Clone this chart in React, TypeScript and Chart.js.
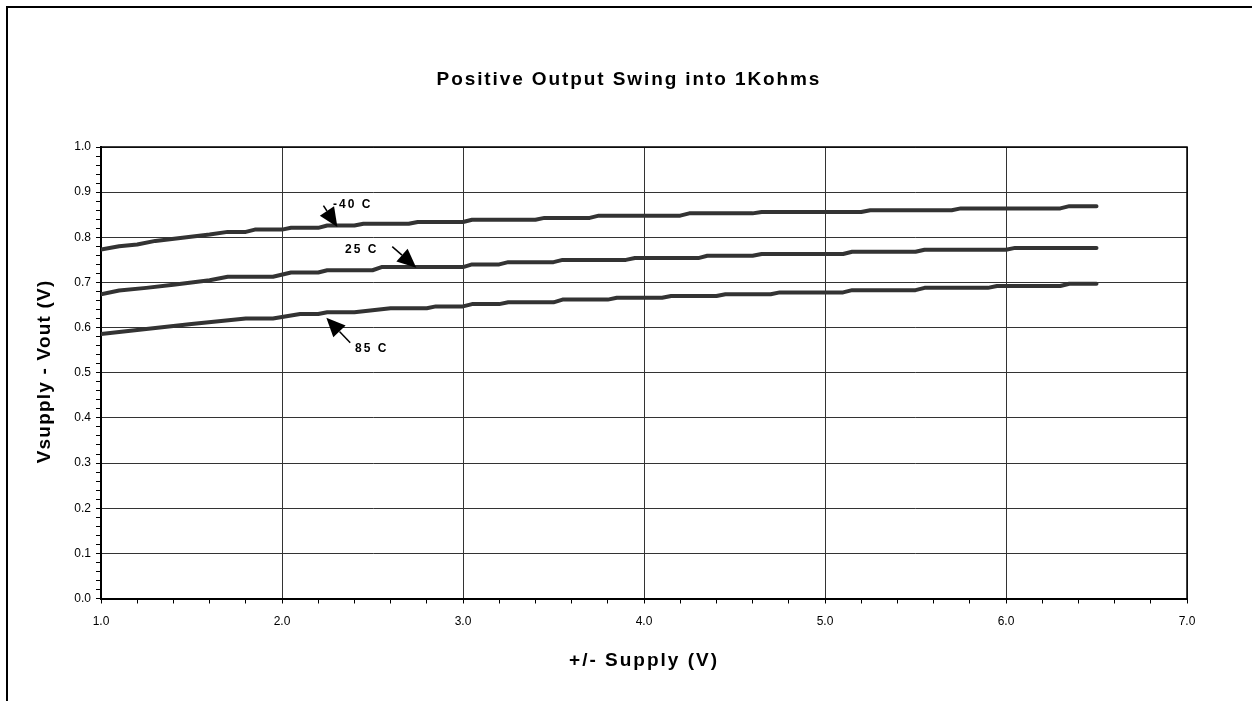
import React, { useEffect, useRef } from "react";
import { Chart, registerables } from "chart.js";

Chart.register(...registerables);

const FONT = "'Liberation Sans', Arial, Helvetica, sans-serif";

const TITLE = "Positive Output Swing into 1Kohms";
const X_TITLE = "+/- Supply (V)";
const Y_TITLE = "Vsupply - Vout (V)";

const X_MIN = 1;
const X_MAX = 7;
const X_STEP = 0.2;
const Y_MIN = 0;
const Y_MAX = 1;
const Y_STEP = 0.02;

// -40 C series (supply V, swing V)
const m40Supply = [1.0, 1.1, 1.2, 1.3, 1.45, 1.6, 1.7, 1.8, 1.85, 2.0, 2.05, 2.2, 2.25, 2.4, 2.45, 2.7, 2.75, 3.0, 3.05, 3.4, 3.45, 3.7, 3.75, 4.2, 4.25, 4.6, 4.65, 5.2, 5.25, 5.7, 5.75, 6.3, 6.35, 6.5];
const m40Swing = [0.773, 0.780, 0.784, 0.792, 0.799, 0.806, 0.812, 0.812, 0.817, 0.817, 0.821, 0.821, 0.826, 0.826, 0.830, 0.830, 0.834, 0.834, 0.839, 0.839, 0.843, 0.843, 0.848, 0.848, 0.853, 0.853, 0.856, 0.856, 0.860, 0.860, 0.864, 0.864, 0.869, 0.869];

// 25 C series
const p25Supply = [1.0, 1.1, 1.25, 1.4, 1.6, 1.7, 1.95, 2.05, 2.2, 2.25, 2.5, 2.55, 3.0, 3.05, 3.2, 3.25, 3.5, 3.55, 3.9, 3.95, 4.3, 4.35, 4.6, 4.65, 5.1, 5.15, 5.5, 5.55, 6.0, 6.05, 6.5];
const p25Swing = [0.674, 0.682, 0.688, 0.695, 0.705, 0.7125, 0.7125, 0.722, 0.722, 0.727, 0.727, 0.734, 0.734, 0.740, 0.740, 0.745, 0.745, 0.750, 0.750, 0.754, 0.754, 0.759, 0.759, 0.763, 0.763, 0.768, 0.768, 0.7725, 0.7725, 0.7765, 0.7765];

// 85 C series
const p85Supply = [1.0, 1.25, 1.5, 1.8, 1.95, 2.1, 2.2, 2.25, 2.4, 2.6, 2.8, 2.85, 3.0, 3.05, 3.2, 3.25, 3.5, 3.55, 3.8, 3.85, 4.1, 4.15, 4.4, 4.45, 4.7, 4.75, 5.1, 5.15, 5.5, 5.55, 5.9, 5.95, 6.3, 6.35, 6.5];
const p85Swing = [0.586, 0.597, 0.608, 0.620, 0.620, 0.630, 0.630, 0.634, 0.634, 0.643, 0.643, 0.647, 0.647, 0.652, 0.652, 0.656, 0.656, 0.662, 0.662, 0.666, 0.666, 0.670, 0.670, 0.674, 0.674, 0.678, 0.678, 0.683, 0.683, 0.688, 0.688, 0.692, 0.692, 0.697, 0.697];

// Callout annotations (data units)
const seriesNames = ["-40 C", "25 C", "85 C"];
const labelX = [2.385, 2.435, 2.49];
const labelY = [0.8725, 0.7727, 0.553];
const arrowFromX = [2.229, 2.609, 2.377];
const arrowFromY = [0.870, 0.7794, 0.5665];
const arrowToX = [2.306, 2.742, 2.245];
const arrowToY = [0.823, 0.7328, 0.622];

const isMultiple = (v: number, step: number) =>
  Math.abs(v / step - Math.round(v / step)) < 1e-6;

function drawSpaced(ctx: CanvasRenderingContext2D, text: string, cx: number, cy: number, spacing: number) {
  (ctx as any).letterSpacing = spacing + "px";
  const w = ctx.measureText(text).width - spacing;
  ctx.textAlign = "left";
  ctx.textBaseline = "middle";
  ctx.fillText(text, cx - w / 2, cy);
  (ctx as any).letterSpacing = "0px";
}

const decorPlugin = {
  id: "decor",
  afterDraw(chart: any) {
    const ctx: CanvasRenderingContext2D = chart.ctx;
    const a = chart.chartArea;
    const xs = chart.scales.x;
    const ys = chart.scales.y;
    ctx.save();

    // outer frame (top and left)
    ctx.strokeStyle = "#000";
    ctx.lineWidth = 2;
    ctx.beginPath();
    ctx.moveTo(7, 701);
    ctx.lineTo(7, 7);
    ctx.lineTo(1252, 7);
    ctx.stroke();

    // plot area frame (top and right)
    ctx.lineWidth = 1.5;
    ctx.beginPath();
    ctx.moveTo(a.left, a.top);
    ctx.lineTo(a.right, a.top);
    ctx.lineTo(a.right, a.bottom);
    ctx.stroke();

    ctx.fillStyle = "#000";
    // chart title
    ctx.font = `bold 19px ${FONT}`;
    drawSpaced(ctx, TITLE, 628, 80, 1.9);

    // x axis title
    ctx.font = `bold 19px ${FONT}`;
    drawSpaced(ctx, X_TITLE, 643, 661, 2);

    // y axis title
    ctx.save();
    ctx.translate(45, 372);
    ctx.rotate(-Math.PI / 2);
    drawSpaced(ctx, Y_TITLE, 0, 0, 1.2);
    ctx.restore();

    // callouts
    for (let i = 0; i < seriesNames.length; i++) {
      const tx = xs.getPixelForValue(labelX[i]);
      const ty = ys.getPixelForValue(labelY[i]);
      ctx.font = `bold 12px ${FONT}`;
      drawSpaced(ctx, seriesNames[i], tx, ty, 2);

      const x0 = xs.getPixelForValue(arrowFromX[i]);
      const y0 = ys.getPixelForValue(arrowFromY[i]);
      const x1 = xs.getPixelForValue(arrowToX[i]);
      const y1 = ys.getPixelForValue(arrowToY[i]);
      const ang = Math.atan2(y1 - y0, x1 - x0);
      const headLen = 19;
      const headHalf = 8.5;
      const bx = x1 - headLen * Math.cos(ang);
      const by = y1 - headLen * Math.sin(ang);
      ctx.strokeStyle = "#000";
      ctx.lineWidth = 1.5;
      ctx.beginPath();
      ctx.moveTo(x0, y0);
      ctx.lineTo(bx, by);
      ctx.stroke();
      ctx.beginPath();
      ctx.moveTo(x1, y1);
      ctx.lineTo(bx + headHalf * Math.sin(ang), by - headHalf * Math.cos(ang));
      ctx.lineTo(bx - headHalf * Math.sin(ang), by + headHalf * Math.cos(ang));
      ctx.closePath();
      ctx.fill();
    }
    ctx.restore();
  },
};

function toPoints(xs: number[], ys: number[]) {
  return xs.map((x, i) => ({ x, y: ys[i] }));
}

export default function App() {
  const ref = useRef<HTMLCanvasElement | null>(null);

  useEffect(() => {
    document.body.style.margin = "0";
    const canvas = ref.current;
    if (!canvas) return;
    const lineStyle = {
      borderColor: "#333333",
      borderWidth: 4,
      pointRadius: 0,
      tension: 0,
      fill: false,
      borderCapStyle: "round" as const,
      borderJoinStyle: "round" as const,
    };
    const chart = new Chart(canvas, {
      type: "line",
      data: {
        datasets: [
          { label: seriesNames[0], data: toPoints(m40Supply, m40Swing), ...lineStyle },
          { label: seriesNames[1], data: toPoints(p25Supply, p25Swing), ...lineStyle },
          { label: seriesNames[2], data: toPoints(p85Supply, p85Swing), ...lineStyle },
        ],
      },
      options: {
        responsive: false,
        maintainAspectRatio: false,
        devicePixelRatio: 1,
        animation: false,
        layout: { padding: { top: 147, right: 65, left: 0, bottom: 0 }, autoPadding: false },
        plugins: {
          legend: { display: false },
          title: { display: false },
          tooltip: { enabled: false },
        },
        scales: {
          x: {
            type: "linear",
            min: X_MIN,
            max: X_MAX,
            ticks: {
              stepSize: X_STEP,
              autoSkip: false,
              maxRotation: 0,
              minRotation: 0,
              padding: 11,
              color: "#000",
              font: { family: FONT, size: 12 },
              callback: (v: any) => (isMultiple(Number(v), 1) ? Number(v).toFixed(1) : ""),
            },
            grid: {
              color: (c: any) => (c.tick && isMultiple(c.tick.value, 1) ? "#333333" : "rgba(0,0,0,0)"),
              tickColor: "#000",
              tickLength: 5,
              lineWidth: 1,
            },
            border: { display: true, color: "#000", width: 2 },
            afterFit: (s: any) => {
              s.height = 102.5;
            },
          },
          y: {
            type: "linear",
            min: Y_MIN,
            max: Y_MAX,
            ticks: {
              stepSize: Y_STEP,
              autoSkip: false,
              padding: 5,
              color: "#000",
              font: { family: FONT, size: 12 },
              callback: (v: any) => (isMultiple(Number(v), 0.1) ? Number(v).toFixed(1) : ""),
            },
            grid: {
              color: (c: any) => (c.tick && isMultiple(c.tick.value, 0.1) ? "#333333" : "rgba(0,0,0,0)"),
              tickColor: "#000",
              tickLength: 5,
              lineWidth: 1,
            },
            border: { display: true, color: "#000", width: 2 },
            afterFit: (s: any) => {
              s.width = 101;
            },
          },
        },
      },
      plugins: [decorPlugin],
    });
    return () => chart.destroy();
  }, []);

  return (
    <div style={{ position: "absolute", left: 0, top: 0, width: 1252, height: 701, background: "#fff" }}>
      <canvas ref={ref} width={1252} height={701} style={{ width: 1252, height: 701, display: "block" }} />
    </div>
  );
}
